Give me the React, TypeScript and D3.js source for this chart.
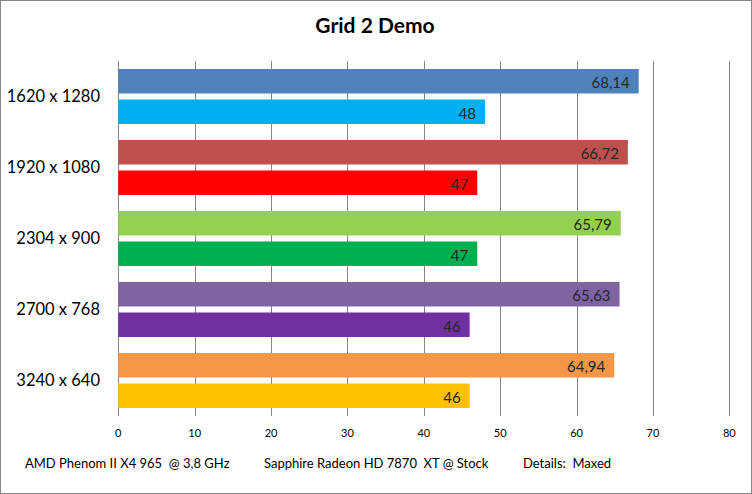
import React from "react";
import * as d3 from "d3";

const title = "Grid 2 Demo";
const categories = ["1620 x 1280", "1920 x 1080", "2304 x 900", "2700 x 768", "3240 x 640"];
const seriesNames = ["top", "bottom"];
const topValues = [68.14, 66.72, 65.79, 65.63, 64.94];
const bottomValues = [48, 47, 47, 46, 46];
const topColors = ["#4F81BD", "#C0504D", "#92D050", "#8064A2", "#F79646"];
const bottomColors = ["#00B0F0", "#FF0000", "#00B050", "#7030A0", "#FFC000"];
const ticks = [0, 10, 20, 30, 40, 50, 60, 70, 80];
const footer = [
  { text: "AMD Phenom II X4 965  @ 3,8 GHz", x: 25 },
  { text: "Sapphire Radeon HD 7870  XT @ Stock", x: 264 },
  { text: "Details:  Maxed", x: 523 },
];

const W = 752;
const H = 494;
const FONT = "Lato, 'Open Sans', sans-serif";

export default function App() {
  const x = d3.scaleLinear().domain([0, 80]).range([118.3, 729.3]);
  const y = d3.scaleBand<string>().domain(categories).range([61, 416]).padding(0);
  const sub = d3
    .scaleBand<string>()
    .domain(seriesNames)
    .range([0, y.bandwidth()])
    .paddingInner(6 / 30.5)
    .paddingOuter(8 / 30.5);
  const fmt = (v: number) => (Number.isInteger(v) ? String(v) : v.toFixed(2).replace(".", ","));
  const [y0, y1] = y.range();

  return (
    <svg width={W} height={H} style={{ position: "absolute", left: 0, top: 0 }} fontFamily={FONT}>
      <rect x={0} y={0} width={W} height={H} fill="#fff" />
      <rect x={0.5} y={0.5} width={W - 1} height={H - 1} fill="none" stroke="#868686" />
      <text x={375} y={33} textAnchor="middle" fontSize={21} fontWeight="bold" fill="#000">
        {title}
      </text>
      {ticks.map((t) => (
        <g key={t}>
          <line x1={Math.round(x(t)) + 0.5} x2={Math.round(x(t)) + 0.5} y1={y0} y2={y1} stroke="#868686" strokeWidth={1} />
          <text x={x(t)} y={437} textAnchor="middle" fontSize={11} fill="#000">
            {t}
          </text>
        </g>
      ))}
      {categories.map((c, i) => {
        const b = y(c)!;
        const rows = [
          { s: seriesNames[0], v: topValues[i], col: topColors[i] },
          { s: seriesNames[1], v: bottomValues[i], col: bottomColors[i] },
        ];
        return (
          <g key={c}>
            <text x={100} y={b + y.bandwidth() / 2 + 5.5} textAnchor="end" fontSize={16.5} fill="#000">
              {c}
            </text>
            {rows.map((r) => {
              const by = b + sub(r.s)!;
              return (
                <g key={r.s}>
                  <rect x={x(0)} y={by} width={x(r.v) - x(0)} height={sub.bandwidth()} fill={r.col} />
                  <text x={x(r.v) - 9} y={by + sub.bandwidth() / 2 + 7} textAnchor="end" fontSize={15} fill="#262626">
                    {fmt(r.v)}
                  </text>
                </g>
              );
            })}
          </g>
        );
      })}
      {footer.map((f) => (
        <text key={f.text} x={f.x} y={467.5} fontSize={13} fill="#000" style={{ whiteSpace: "pre" }}>
          {f.text}
        </text>
      ))}
    </svg>
  );
}
